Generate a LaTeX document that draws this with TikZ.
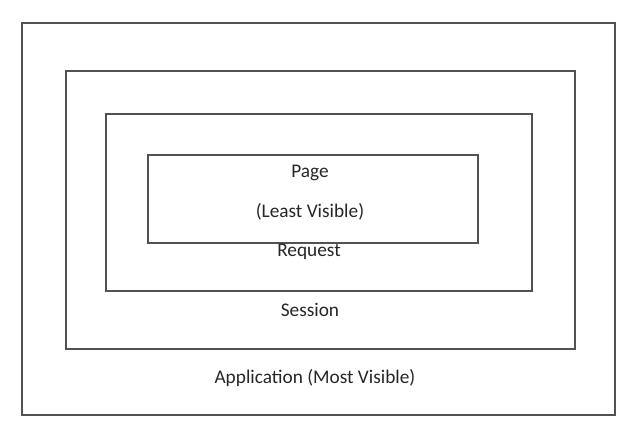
\documentclass[tikz,border=0pt]{standalone}
\usepackage{fontspec}
\setmainfont{Carlito}
\begin{document}
\begin{tikzpicture}[x=1pt,y=-1pt,
  frame/.style={draw=black!68,line width=1.8pt,fill=none},
  lbl/.style={font=\fontsize{19.3}{21}\selectfont,text=black!85,inner sep=0pt}]
\useasboundingbox (0,0) rectangle (622,433);
% nested scope frames
\node[frame,minimum width=593pt,minimum height=392pt,anchor=north west] (app) at (21,22) {};
\node[frame,minimum width=509pt,minimum height=278pt,anchor=north west] (session) at (65,70) {};
\node[frame,minimum width=426pt,minimum height=177pt,anchor=north west] (request) at (105,113) {};
\node[frame,minimum width=330pt,minimum height=88pt,anchor=north west] (page) at (147,154) {};
% labels
\node[lbl] (pagelbl) at (310,173) {Page};
\node[lbl] (least) at (310,212) {(Least Visible)};
\node[lbl] (reqlbl) at (309,252) {Request};
\node[lbl] (seslbl) at (310,310) {Session};
\node[lbl] (applbl) at (315,378) {Application (Most Visible)};
\end{tikzpicture}
\end{document}
